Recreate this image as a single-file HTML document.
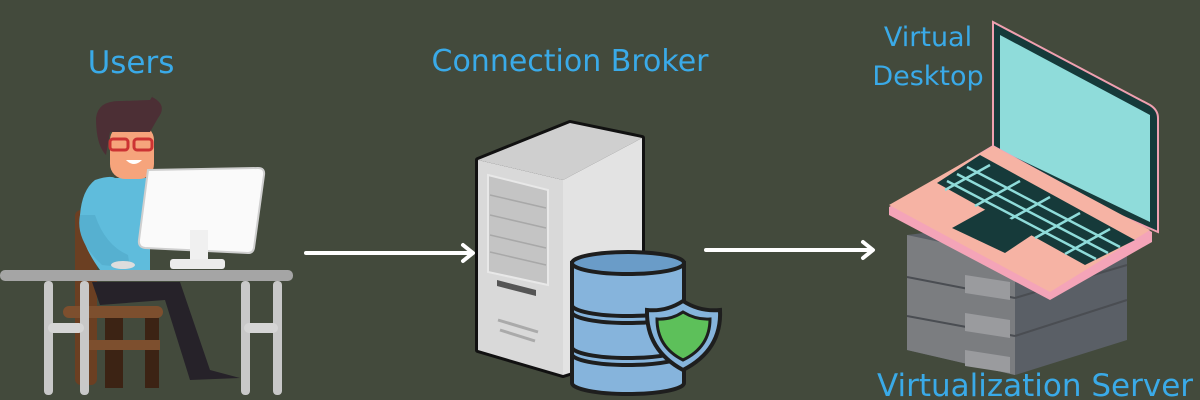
<!DOCTYPE html>
<html><head><style>
html,body{margin:0;padding:0;background:#434a3c;}
svg{display:block;}
text{font-family:"DejaVu Sans","Liberation Sans",sans-serif;fill:#3aaae8;}
</style></head><body>
<svg width="1200" height="400" viewBox="0 0 1200 400" xmlns="http://www.w3.org/2000/svg">
<rect width="1200" height="400" fill="#434a3c"/>
<text x="131" y="73" font-size="31" text-anchor="middle">Users</text>
<text x="570" y="71" font-size="30" text-anchor="middle">Connection Broker</text>
<text x="928" y="46" font-size="27" text-anchor="middle">Virtual</text>
<text x="928" y="85" font-size="27" text-anchor="middle">Desktop</text>
<text x="1035" y="396" font-size="31" text-anchor="middle">Virtualization Server</text>

<g stroke="#fff" stroke-width="4" fill="none" stroke-linecap="round" stroke-linejoin="round">
<line x1="306" y1="253" x2="472" y2="253"/><polyline points="463,245 473,253 463,261"/>
<line x1="706" y1="250" x2="872" y2="250"/><polyline points="863,242 873,250 863,258"/>
</g>

<g>
<rect x="75" y="210" width="22" height="175" rx="6" fill="#6b3f22"/>
<rect x="63" y="306" width="100" height="12" rx="6" fill="#7d4f2e"/>
<rect x="105" y="318" width="18" height="70" fill="#3c2314"/>
<rect x="145" y="318" width="14" height="70" fill="#3c2314"/>
<rect x="80" y="340" width="80" height="10" fill="#7d4f2e"/>
<path d="M95,180 Q110,175 115,178 L150,178 L150,270 L100,270 Q78,240 80,215 Q82,190 95,180Z" fill="#5fbcdc"/>
<path d="M80,215 Q75,240 102,265 L130,268 L128,255 Q105,245 95,215Z" fill="#56b0d0"/>
<rect x="110" y="125" width="44" height="54" rx="15" fill="#f6a47c"/>
<path d="M96,118 Q98,100 122,101 L150,100 Q155,92 152,97 Q168,105 158,118 L150,132 L110,132 L106,155 Q96,145 96,118Z" fill="#4c2f35"/>
<rect x="110" y="139" width="18" height="11" rx="3" fill="none" stroke="#cc3333" stroke-width="3"/>
<rect x="134" y="139" width="18" height="11" rx="3" fill="none" stroke="#cc3333" stroke-width="3"/>
<path d="M126,160 Q134,168 142,160Z" fill="#fff"/>
<path d="M92,282 L180,282 L210,370 L240,378 L190,380 L165,300 L100,305Z" fill="#262229"/>
<path d="M148,170 L258,168 Q265,168 264,175 L254,248 Q253,253 248,253 L145,248 Q138,247 139,240 Z" fill="#fafafa" stroke="#cfcfcf" stroke-width="2"/>
<rect x="190" y="230" width="18" height="30" fill="#f0f0f0"/>
<rect x="170" y="259" width="55" height="10" rx="3" fill="#ececec"/>
<ellipse cx="123" cy="265" rx="12" ry="4" fill="#ddd"/>
<rect x="0" y="270" width="293" height="11" rx="5" fill="#a5a5a5"/>
<g fill="#c8c8c8"><rect x="44" y="281" width="9" height="114" rx="4"/><rect x="80" y="281" width="9" height="114" rx="4"/><rect x="241" y="281" width="9" height="114" rx="4"/><rect x="273" y="281" width="9" height="114" rx="4"/>
<rect x="48" y="323" width="36" height="10" rx="5" fill="#d5d5d5"/><rect x="244" y="323" width="34" height="10" rx="5" fill="#d5d5d5"/></g>
</g>

<g stroke="#111" stroke-width="6" stroke-linejoin="round">
<path d="M478,160 L570,123 L642,138 L642,350 L563,375 L478,350Z" fill="#111"/>
</g>
<path d="M478,160 L570,123 L642,138 L563,180Z" fill="#cfcfcf"/>
<path d="M563,180 L642,138 L642,350 L563,375Z" fill="#e3e3e3"/>
<path d="M478,160 L563,180 L563,375 L478,350Z" fill="#d9d9d9"/>
<path d="M488,175 L548,190 L548,285 L488,272Z" fill="#c4c4c4" stroke="#e8e8e8" stroke-width="2"/>
<g stroke="#a8a8a8" stroke-width="1.5"><line x1="490" y1="195" x2="546" y2="208"/><line x1="490" y1="215" x2="546" y2="228"/><line x1="490" y1="235" x2="546" y2="248"/><line x1="490" y1="252" x2="546" y2="265"/></g>
<path d="M497,280 L536,290 L536,296 L497,286Z" fill="#555"/>
<g stroke="#aaa" stroke-width="3"><line x1="498" y1="320" x2="538" y2="332"/><line x1="500" y1="330" x2="535" y2="341"/></g>

<g stroke="#1e1e1e" stroke-width="4">
<path d="M572,263 L572,383 A56,11 0 0 0 684,383 L684,263Z" fill="#86b4dc"/>
<ellipse cx="628" cy="263" rx="56" ry="11" fill="#6a9cc8"/>
<path d="M572,305 A56,11 0 0 0 684,305" fill="none"/>
<path d="M572,312 A56,11 0 0 0 684,312" fill="none"/>
<path d="M572,347 A56,11 0 0 0 684,347" fill="none"/>
<path d="M572,354 A56,11 0 0 0 684,354" fill="none"/>
</g>
<path d="M683,301 Q700,312 720,310 Q722,350 683,370 Q646,350 647,310 Q666,312 683,301Z" fill="#86b4dc" stroke="#1e1e1e" stroke-width="4"/>
<path d="M683,312 Q696,320 710,319 Q710,347 683,360 Q657,347 657,319 Q671,320 683,312Z" fill="#5dc05a" stroke="#1e1e1e" stroke-width="3"/>

<g>
<path d="M907,235 L1015,222 L1127,255 L1127,340 L1015,375 L907,350Z" fill="#5a5f66"/>
<path d="M907,235 L1015,258 L1015,375 L907,350Z" fill="#7b7d80"/>
<g stroke="#4a4d52" stroke-width="2"><line x1="907" y1="277" x2="1015" y2="298"/><line x1="907" y1="316" x2="1015" y2="336"/><line x1="1015" y1="298" x2="1127" y2="265"/><line x1="1015" y1="336" x2="1127" y2="300"/></g>
<g fill="#9a9b9e"><path d="M965,275 L1010,282 L1010,300 L965,293Z"/><path d="M965,313 L1010,320 L1010,338 L965,331Z"/><path d="M965,350 L1010,357 L1010,373 L965,366Z"/></g>
</g>

<path d="M993,22 L1150,105 Q1158,110 1158,118 L1158,232 L993,160Z" fill="#163a3a" stroke="#f0a0b0" stroke-width="2"/>
<path d="M1000,35 L1150,115 L1150,222 L1000,150Z" fill="#8fdcda"/>
<path d="M889,207 L993,145 L1152,232 L1152,242 L1050,300 L889,215Z" fill="#f4a4b8"/>
<path d="M889,205 L993,146 L1150,230 L1050,292Z" fill="#f6b3a4"/>
<path d="M937,183 L980,155 L1135,240 L1085,265Z" fill="#163a3a"/>
<g stroke="#8fdcda" stroke-width="2.5"><line x1="947" y1="181" x2="1096" y2="259"/><line x1="957" y1="174" x2="1108" y2="253"/><line x1="967" y1="167" x2="1120" y2="247"/><line x1="990" y1="165" x2="945" y2="190"/><line x1="1020" y1="181" x2="975" y2="206"/><line x1="1050" y1="197" x2="1005" y2="222"/><line x1="1080" y1="213" x2="1035" y2="238"/><line x1="1110" y1="229" x2="1065" y2="254"/></g>
<path d="M952,228 L990,207 L1035,233 L1005,253Z" fill="#163a3a"/>
</svg>
</body></html>
